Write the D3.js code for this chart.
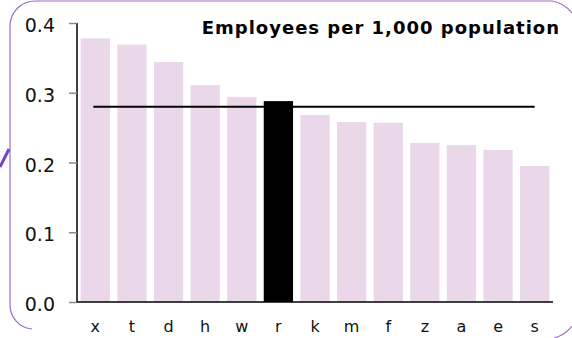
<!DOCTYPE html>
<html>
<head>
<meta charset="utf-8">
<script src="https://cdn.jsdelivr.net/npm/d3@7"></script>
<style>
  html, body { margin: 0; padding: 0; background: #fff; }
  svg { display: block; }
</style>
</head>
<body>
<svg id="chart" width="572" height="338"></svg>
<script>
// Employees per 1,000 population by area
const categories = ["x", "t", "d", "h", "w", "r", "k", "m", "f", "z", "a", "e", "s"];
const values = [0.378, 0.369, 0.344, 0.311, 0.294, 0.288, 0.268, 0.258, 0.257, 0.228, 0.225, 0.218, 0.195];
const highlighted = ["r"];
const averageValue = [0.28];
const yTicks = [0, 0.1, 0.2, 0.3, 0.4];
const title = ["Employees per 1,000 population"];

const svg = d3.select("#chart");
const margin = { left: 77, right: 19, top: 23, bottom: 36 };
const W = 572, H = 338;
const font = "Verdana, DejaVu Sans, sans-serif";

const x = d3.scaleBand()
  .domain(categories)
  .range([margin.left, W - margin.right])
  .paddingInner(0.2)
  .paddingOuter(0.1);

const y = d3.scaleLinear()
  .domain([0, 0.4])
  .range([H - margin.bottom, margin.top]);

// Rounded panel outline
svg.append("path")
  .attr("d", "M 32,329 A 24 24 0 0 1 10,305 L 10,25 A 25 25 0 0 1 35,1 L 552,1 A 32 32 0 0 1 572,13")
  .attr("fill", "none")
  .attr("stroke", "#9a70c2")
  .attr("stroke-width", 1.2);
svg.append("path")
  .attr("d", "M 554,338 Q 565,335 572,326")
  .attr("fill", "none")
  .attr("stroke", "#9a70c2")
  .attr("stroke-width", 1.2);
svg.append("path")
  .attr("d", "M 0,167 L 9,149")
  .attr("fill", "none")
  .attr("stroke", "#7a40c0")
  .attr("stroke-width", 3);

// Bars
svg.append("g")
  .selectAll("rect")
  .data(categories.map((c, i) => ({ c, v: values[i] })))
  .join("rect")
  .attr("x", d => x(d.c))
  .attr("y", d => y(d.v))
  .attr("width", x.bandwidth())
  .attr("height", d => y(0) - y(d.v))
  .attr("fill", d => highlighted.includes(d.c) ? "#000" : "#ead8ea");

// Average line
svg.append("line")
  .attr("x1", x(categories[0]) + x.bandwidth() / 2 - 2)
  .attr("x2", x(categories[categories.length - 1]) + x.bandwidth() / 2)
  .attr("y1", y(averageValue[0]))
  .attr("y2", y(averageValue[0]))
  .attr("stroke", "#000")
  .attr("stroke-width", 2);

// Y axis
const yAxis = svg.append("g")
  .attr("transform", `translate(${margin.left},0)`)
  .call(d3.axisLeft(y).tickValues(yTicks).tickFormat(d3.format(".1f")).tickSize(8).tickPadding(14));
yAxis.select(".domain").attr("stroke", "#000").attr("stroke-width", 1.5)
  .attr("d", `M0,${y(0)}V${margin.top}`);
yAxis.selectAll(".tick line").attr("stroke", "#888").attr("stroke-width", 1.5);
yAxis.selectAll(".tick text")
  .attr("font-family", font)
  .attr("font-size", 19)
  .attr("fill", "#111")
  .attr("dy", "0.45em");

// X axis
const xAxis = svg.append("g")
  .attr("transform", `translate(0,${y(0)})`)
  .call(d3.axisBottom(x).tickSize(0).tickPadding(19));
xAxis.select(".domain").attr("stroke", "#000").attr("stroke-width", 1.5)
  .attr("d", `M${margin.left},0H${W - margin.right}`);
xAxis.selectAll(".tick text")
  .attr("font-family", font)
  .attr("font-size", 16)
  .attr("fill", "#111");

// Title
svg.append("text")
  .attr("x", 560)
  .attr("y", 34)
  .attr("text-anchor", "end")
  .attr("font-family", font)
  .attr("font-weight", "bold")
  .attr("font-size", 18)
  .attr("letter-spacing", 1)
  .attr("fill", "#000")
  .text(title[0]);
</script>
</body>
</html>
